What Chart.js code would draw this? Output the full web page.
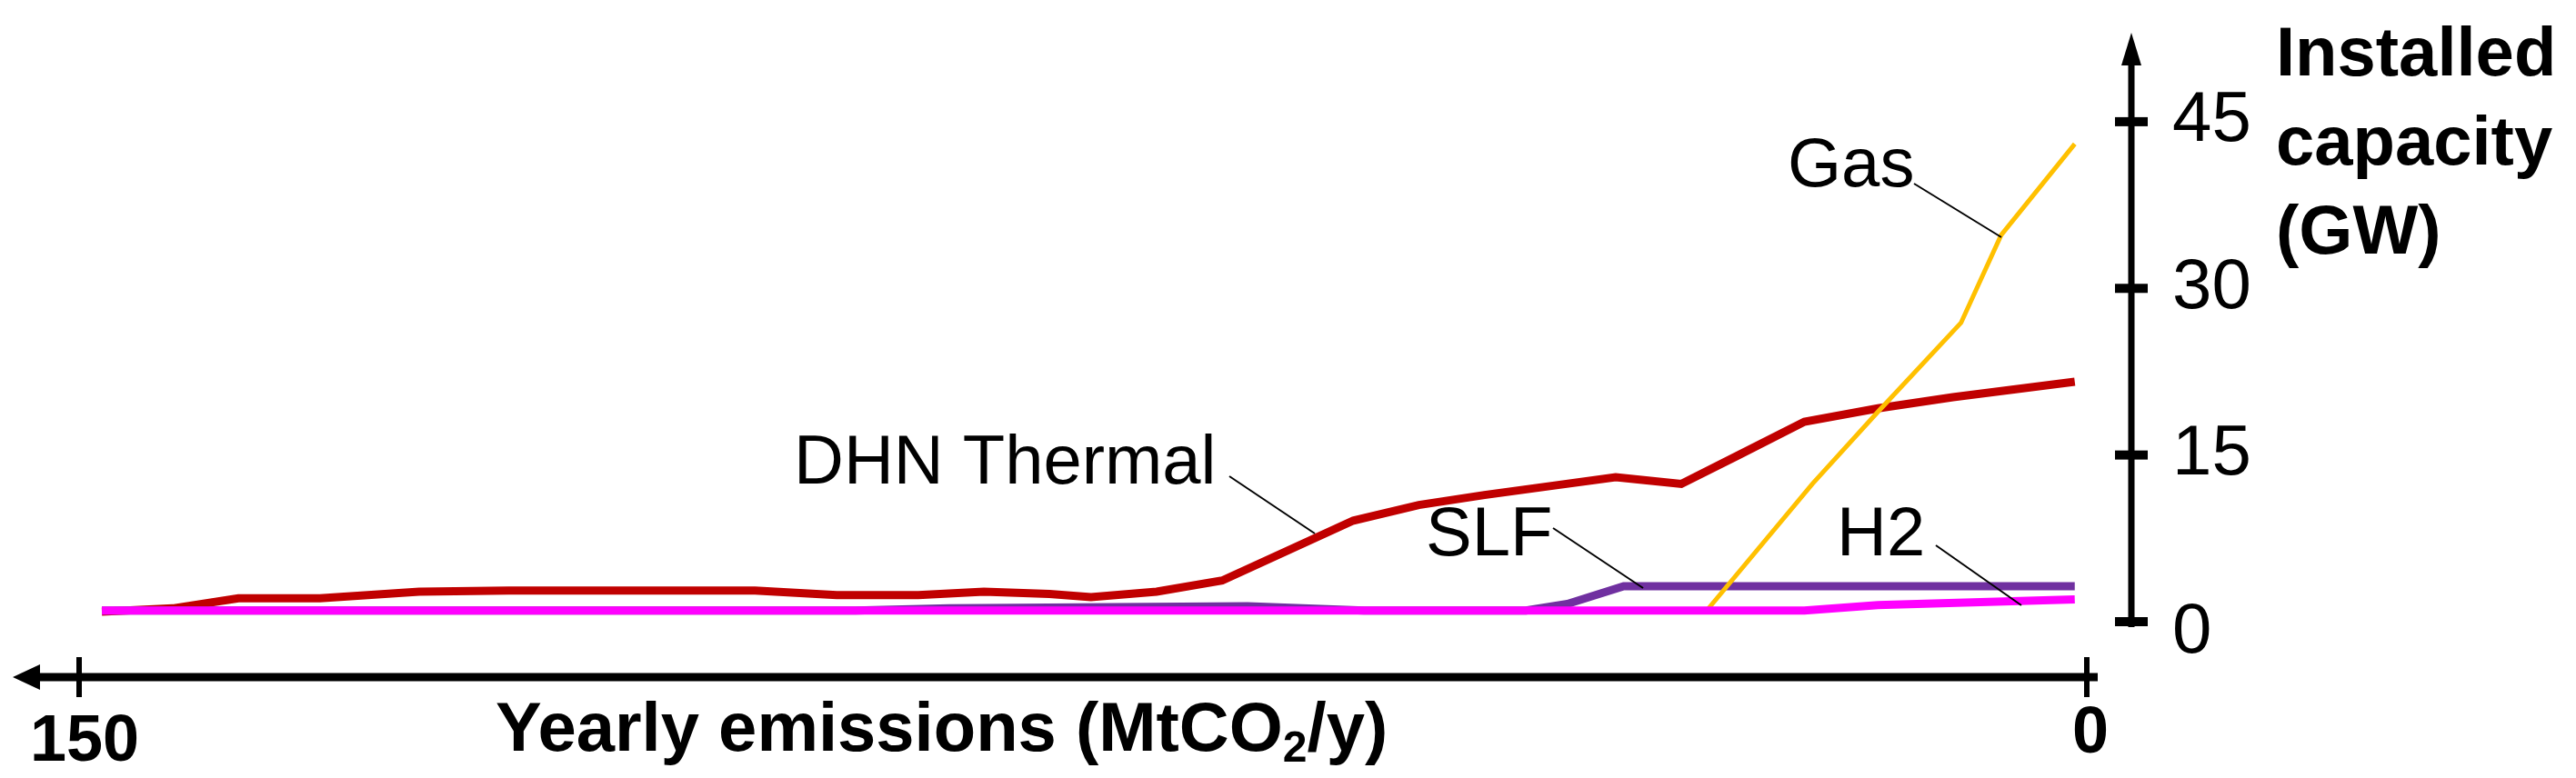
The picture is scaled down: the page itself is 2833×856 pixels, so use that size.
<!DOCTYPE html>
<html>
<head>
<meta charset="utf-8">
<script src="https://cdn.jsdelivr.net/npm/chart.js@4/dist/chart.umd.min.js"></script>
<style>
  body { margin: 0; background: #fff; }
  canvas { display: block; }
</style>
</head>
<body>
<canvas id="chart" width="2833" height="856"></canvas>
<script>
// emissions (MtCO2/y) for each point
const dhnX = [148.3, 143, 138.1, 132, 124.6, 117.9, 99.5, 93.4, 87.3, 82.4, 77.5, 74.4, 69.5, 64.6, 59.7, 54.8, 49.9, 45, 39.5, 35.2, 30.3, 26, 21.1, 15.6, 10, 0.9];
const dhnY = [0.9, 1.2, 2.1, 2.1, 2.7, 2.8, 2.8, 2.4, 2.4, 2.7, 2.5, 2.2, 2.7, 3.7, 6.4, 9.1, 10.5, 11.4, 12.3, 13, 12.4, 15, 18, 19.2, 20.2, 21.6];
const gasX = [148.3, 35.8, 29.9, 28.4, 20.5, 15.6, 9.4, 6.4, 0.9];
const gasY = [0.9, 0.9, 1.0, 1.0, 12.4, 18.9, 26.9, 34.8, 43];
const slfX = [148.3, 92, 85, 62.7, 54, 41.9, 38.8, 34.6, 0.9];
const slfY = [1.0, 1.0, 1.2, 1.4, 1.0, 1.0, 1.6, 3.2, 3.2];
const h2X = [148.3, 21.1, 15.6, 0.9];
const h2Y = [1.0, 1.0, 1.5, 2.0];
const yTicks = [0, 15, 30, 45];
const xTicks = [150, 0];

const pts = (xs, ys) => xs.map((x, i) => ({ x: x, y: ys[i] }));

// axes, arrows and labels drawn from the scales
const decor = {
  id: 'decor',
  afterDraw(chart) {
    const c = chart.ctx, xs = chart.scales.x, ys = chart.scales.y;
    c.save();
    c.fillStyle = '#000'; c.strokeStyle = '#000';
    // x axis
    const ay = 745;
    c.lineWidth = 9;
    c.beginPath(); c.moveTo(30, ay); c.lineTo(xs.getPixelForValue(0) + 12, ay); c.stroke();
    c.beginPath(); c.moveTo(14, ay); c.lineTo(44, ay - 14); c.lineTo(44, ay + 14); c.closePath(); c.fill();
    c.lineWidth = 6;
    xTicks.forEach(v => {
      const px = xs.getPixelForValue(v);
      c.beginPath(); c.moveTo(px, ay - 22); c.lineTo(px, ay + 22); c.stroke();
    });
    c.font = 'bold 72px "Liberation Sans", Arial';
    c.textAlign = 'center'; c.textBaseline = 'middle';
    c.fillText('150', xs.getPixelForValue(150) + 6, 817);
    c.fillText('0', xs.getPixelForValue(0) + 4, 808);
    // x title with subscript
    c.textAlign = 'left';
    c.font = 'bold 76px "Liberation Sans", Arial';
    let tx = 545;
    const t1 = 'Yearly emissions (MtCO';
    c.fillText(t1, tx, 805); tx += c.measureText(t1).width;
    c.font = 'bold 48px "Liberation Sans", Arial';
    c.fillText('2', tx, 825); tx += c.measureText('2').width;
    c.font = 'bold 76px "Liberation Sans", Arial';
    c.fillText('/y)', tx, 805);
    // y axis
    const axX = 2344;
    c.lineWidth = 7;
    c.beginPath(); c.moveTo(axX, 60); c.lineTo(axX, ys.getPixelForValue(0) + 6); c.stroke();
    c.beginPath(); c.moveTo(axX, 36); c.lineTo(axX - 11, 72); c.lineTo(axX + 11, 72); c.closePath(); c.fill();
    c.font = '78px "Liberation Sans", Arial';
    yTicks.forEach(v => {
      const py = ys.getPixelForValue(v);
      c.fillRect(axX - 18, py - 5, 36, 10);
      c.fillText(String(v), 2389, py + (v === 0 ? 12 : 0));
    });
    c.font = 'bold 76px "Liberation Sans", Arial';
    c.fillText('Installed', 2503, 62);
    c.fillText('capacity', 2503, 160);
    c.fillText('(GW)', 2503, 258);
    // series labels with leader lines
    c.font = '76px "Liberation Sans", Arial';
    const labs = [
      ['Gas', 1966, 184, 2105, 202, 2201, 261],
      ['DHN Thermal', 873, 511, 1352, 524, 1446, 587],
      ['SLF', 1568, 590, 1708, 581, 1807, 647],
      ['H2', 2020, 590, 2129, 600, 2223, 666]
    ];
    c.lineWidth = 2;
    labs.forEach(l => {
      c.fillText(l[0], l[1], l[2]);
      c.beginPath(); c.moveTo(l[3], l[4]); c.lineTo(l[5], l[6]); c.stroke();
    });
    c.restore();
  }
};

new Chart(document.getElementById('chart').getContext('2d'), {
  type: 'line',
  data: {
    datasets: [
      { label: 'H2', data: pts(h2X, h2Y), borderColor: '#FF00FF', borderWidth: 9, order: 0 },
      { label: 'Gas', data: pts(gasX, gasY), borderColor: '#FFC000', borderWidth: 5, order: 1 },
      { label: 'SLF', data: pts(slfX, slfY), borderColor: '#7030A0', borderWidth: 9, order: 2 },
      { label: 'DHN Thermal', data: pts(dhnX, dhnY), borderColor: '#C00000', borderWidth: 9, order: 3 }
    ]
  },
  options: {
    responsive: false,
    animation: false,
    devicePixelRatio: 1,
    layout: { padding: { left: 87, right: 538, top: 30, bottom: 172 } },
    elements: { point: { radius: 0 }, line: { tension: 0, fill: false } },
    plugins: { legend: { display: false }, tooltip: { enabled: false } },
    scales: {
      x: { type: 'linear', min: 0, max: 150, reverse: true, display: false },
      y: { type: 'linear', min: 0, max: 53.5, display: false }
    }
  },
  plugins: [decor]
});
</script>
</body>
</html>
